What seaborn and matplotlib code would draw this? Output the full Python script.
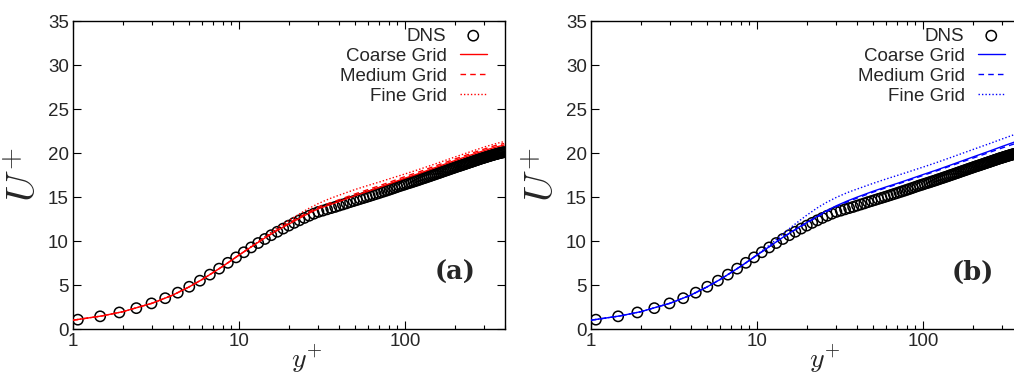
import matplotlib
matplotlib.use("Agg")
import matplotlib.pyplot as plt
import seaborn as sns
import pandas as pd

# ---------------- data ----------------
dns_yplus = [1.070, 1.457, 1.902, 2.407, 2.971, 3.593, 4.275, 5.016, 5.815, 6.673,
             7.590, 8.565, 9.598, 10.689, 11.838, 13.044, 14.309, 15.630, 17.009, 18.444,
             19.936, 21.485, 23.090, 24.751, 26.468, 28.24, 30.07, 31.95, 33.89, 35.88,
             37.92, 40.03, 42.18, 44.38, 46.64, 48.95, 51.31, 53.73, 56.20, 58.71,
             61.28, 63.90, 66.57, 69.29, 72.06, 74.87, 77.73, 80.64, 83.60, 86.61,
             89.66, 92.76, 95.90, 99.09, 102.32, 105.60, 108.92, 112.29, 115.69, 119.14,
             122.63, 126.16, 129.73, 133.34, 137.00, 140.69, 144.42, 148.18, 151.98, 155.82,
             159.70, 163.61, 167.56, 171.54, 175.55, 179.60, 183.68, 187.79, 191.93, 196.10,
             200.30, 204.54, 208.80, 213.09, 217.40, 221.75, 226.11, 230.51, 234.93, 239.37,
             243.84, 248.33, 252.84, 257.37, 261.93, 266.50, 271.10, 275.71, 280.34, 284.98,
             289.65, 294.33, 299.02, 303.73, 308.46, 313.19, 317.94, 322.70, 327.47, 332.25,
             337.04, 341.84, 346.65, 351.46, 356.28, 361.11, 365.94, 370.78, 375.62, 380.46,
             385.31, 390.15, 395.00]
dns_uplus = [1.06, 1.44, 1.88, 2.37, 2.91, 3.50, 4.13, 4.80, 5.49, 6.18,
             6.86, 7.52, 8.14, 8.72, 9.27, 9.77, 10.23, 10.66, 11.05, 11.41,
             11.75, 12.06, 12.35, 12.62, 12.87, 13.10, 13.31, 13.45, 13.60, 13.74,
             13.87, 14.02, 14.15, 14.28, 14.42, 14.54, 14.66, 14.78, 14.89, 15.00,
             15.11, 15.22, 15.33, 15.43, 15.54, 15.64, 15.74, 15.84, 15.94, 16.04,
             16.14, 16.24, 16.33, 16.41, 16.50, 16.58, 16.66, 16.74, 16.82, 16.90,
             16.98, 17.06, 17.14, 17.21, 17.29, 17.36, 17.44, 17.51, 17.58, 17.65,
             17.72, 17.79, 17.86, 17.93, 17.99, 18.06, 18.12, 18.19, 18.25, 18.31,
             18.37, 18.43, 18.49, 18.54, 18.59, 18.65, 18.70, 18.75, 18.81, 18.86,
             18.91, 18.96, 19.01, 19.06, 19.11, 19.16, 19.21, 19.25, 19.30, 19.35,
             19.39, 19.43, 19.47, 19.51, 19.55, 19.59, 19.63, 19.67, 19.70, 19.74,
             19.77, 19.81, 19.84, 19.87, 19.90, 19.93, 19.96, 19.99, 20.02, 20.04,
             20.06, 20.08, 20.10]

line_yplus = [1, 1.5, 2, 3, 4, 5, 6, 7, 8, 9, 10, 12, 14, 16, 18, 20, 23, 26, 30, 35,
              40, 50, 60, 70, 80, 100, 120, 150, 200, 250, 300, 350, 395]

a_coarse = [1.0, 1.49, 1.97, 2.93, 3.86, 4.78, 5.63, 6.43, 7.14, 7.80, 8.40, 9.40, 10.23, 10.90,
            11.47, 11.93, 12.55, 13.10, 13.66, 14.10, 14.48, 15.15, 15.66, 16.09, 16.48, 17.14,
            17.64, 18.30, 19.15, 19.78, 20.28, 20.66, 20.90]
a_medium = [1.0, 1.49, 1.97, 2.93, 3.86, 4.78, 5.63, 6.43, 7.14, 7.80, 8.40, 9.40, 10.25, 10.95,
            11.55, 12.05, 12.70, 13.27, 13.85, 14.30, 14.68, 15.35, 15.85, 16.28, 16.66, 17.32,
            17.82, 18.48, 19.32, 19.95, 20.45, 20.85, 21.08]
a_fine = [1.0, 1.49, 1.97, 2.93, 3.86, 4.78, 5.63, 6.43, 7.14, 7.80, 8.42, 9.45, 10.35, 11.15,
          11.80, 12.35, 13.05, 13.65, 14.25, 14.80, 15.20, 15.85, 16.32, 16.70, 17.05, 17.62,
          18.10, 18.72, 19.55, 20.17, 20.68, 21.05, 21.30]

b_coarse = [1.0, 1.49, 1.97, 2.93, 3.86, 4.78, 5.63, 6.43, 7.14, 7.80, 8.40, 9.42, 10.30, 11.00,
            11.60, 12.12, 12.80, 13.40, 14.00, 14.55, 14.98, 15.65, 16.15, 16.55, 16.92, 17.55,
            18.05, 18.70, 19.55, 20.20, 20.75, 21.20, 21.50]
b_medium = [1.0, 1.49, 1.97, 2.93, 3.86, 4.78, 5.63, 6.43, 7.14, 7.80, 8.40, 9.42, 10.28, 10.97,
            11.55, 12.05, 12.72, 13.30, 13.90, 14.45, 14.87, 15.55, 16.05, 16.45, 16.82, 17.45,
            17.95, 18.60, 19.42, 20.05, 20.58, 21.00, 21.30]
b_fine = [1.0, 1.49, 1.97, 2.93, 3.86, 4.78, 5.63, 6.43, 7.14, 7.80, 8.45, 9.60, 10.65, 11.55,
          12.30, 12.95, 13.75, 14.35, 14.95, 15.50, 15.90, 16.55, 17.05, 17.45, 17.80, 18.40,
          18.90, 19.55, 20.40, 21.05, 21.60, 22.05, 22.40]

series_labels = ["DNS", "Coarse Grid", "Medium Grid", "Fine Grid"]
panel_tags = ["(a)", "(b)"]
panel_colors = ["#ff0000", "#0000ff"]
y_ticks = [0, 5, 10, 15, 20, 25, 30, 35]

# ---------------- style ----------------
sns.set_theme(style="ticks")
plt.rcParams["font.family"] = ["Liberation Sans", "DejaVu Sans"]
plt.rcParams["mathtext.fontset"] = "cm"

FS = 13.5
fig = plt.figure(figsize=(10.14, 3.76), dpi=100)
W = 432 / 1014
H = 308 / 376
B = 47 / 376
ax_a = fig.add_axes([73 / 1014, B, W, H])
ax_b = fig.add_axes([591 / 1014, B, W, H])

dns_df = pd.DataFrame({"yplus": dns_yplus, "uplus": dns_uplus})

panels = [
    (ax_a, [a_coarse, a_medium, a_fine], panel_colors[0], panel_tags[0]),
    (ax_b, [b_coarse, b_medium, b_fine], panel_colors[1], panel_tags[1]),
]
styles = [dict(linestyle="-"), dict(dashes=(4, 3)), dict(dashes=(1, 1.5))]

for ax, lines, col, tag in panels:
    sns.scatterplot(data=dns_df, x="yplus", y="uplus", ax=ax, marker="o",
                    s=55, facecolors="none", edgecolor="black", linewidth=1.1,
                    label=series_labels[0], zorder=2)
    for vals, lab, st in zip(lines, series_labels[1:], styles):
        ldf = pd.DataFrame({"yplus": line_yplus, "uplus": vals})
        sns.lineplot(data=ldf, x="yplus", y="uplus", ax=ax, color=col, linewidth=1.0,
                     label=lab, zorder=3, **st)
    ax.set_xscale("log")
    ax.set_xlim(1, 400)
    ax.set_ylim(0, 35)
    ax.set_yticks(y_ticks)
    ax.set_xticks([1, 10, 100])
    ax.set_xticklabels(["1", "10", "100"])
    ax.tick_params(which="both", direction="in", top=True, right=True,
                   labelsize=FS, color="black", width=0.8)
    ax.tick_params(which="major", length=6, pad=3)
    ax.tick_params(which="minor", length=3)
    ax.tick_params(axis="y", which="minor", left=False, right=False)
    for sp in ax.spines.values():
        sp.set_linewidth(1.0)
        sp.set_color("black")
    ax.set_xlabel(r"$y^{+}$", fontsize=20)
    ax.xaxis.set_label_coords(0.54, -0.045)
    ax.set_ylabel(r"$U^{+}$", fontsize=29)
    ax.yaxis.set_label_coords(-0.068, 0.5)
    ax.text(0.932, 0.185, tag, transform=ax.transAxes, ha="right", va="center",
            fontsize=18.5, fontweight="bold", family="DejaVu Serif")

    handles, labels = ax.get_legend_handles_labels()
    leg = ax.legend(handles, labels, loc="upper right", bbox_to_anchor=(0.958, 0.979),
                    frameon=False, fontsize=FS, markerfirst=False, scatterpoints=1,
                    handlelength=1.45, handletextpad=0.7, labelspacing=0.16,
                    borderpad=0.0, borderaxespad=0.0)
    for c in leg._legend_handle_box.get_children():
        c.align = "right"

fig.savefig("out.png", dpi=100)
